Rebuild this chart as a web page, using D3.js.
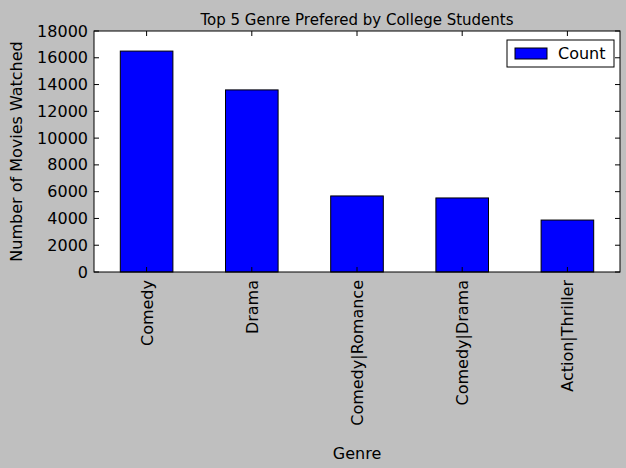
<!DOCTYPE html>
<html><head><meta charset="utf-8">
<script src="https://cdn.jsdelivr.net/npm/d3@7"></script>
<style>body{margin:0;background:#bfbfbf}text{font-family:"DejaVu Sans",sans-serif}</style>
</head><body><div id="chart"></div>
<script>
const genres = ["Comedy", "Drama", "Comedy|Romance", "Comedy|Drama", "Action|Thriller"];
const counts = [16500, 13600, 5680, 5530, 3880];
const yTicks = [0, 2000, 4000, 6000, 8000, 10000, 12000, 14000, 16000, 18000];

const W = 626, H = 468;
const m = {top: 31, right: 6, bottom: 196, left: 94};
const w = W - m.left - m.right, h = H - m.top - m.bottom;

const svg = d3.select("#chart").append("svg").attr("width", W).attr("height", H);
const g = svg.append("g").attr("transform", `translate(${m.left},${m.top})`);

const x = d3.scaleBand().domain(genres).range([0, w]).paddingInner(0.5).paddingOuter(0.25);
const y = d3.scaleLinear().domain([0, 18000]).range([h, 0]);

g.append("rect").attr("width", w).attr("height", h).attr("fill", "#fff");

g.selectAll(".bar").data(genres).enter().append("rect")
  .attr("x", d => x(d)).attr("width", x.bandwidth())
  .attr("y", (d, i) => y(counts[i])).attr("height", (d, i) => h - y(counts[i]))
  .attr("fill", "#0000ff").attr("stroke", "#000").attr("stroke-width", 1);

// ticks inside, both sides (classic style)
yTicks.forEach(t => {
  g.append("line").attr("x1", 0).attr("x2", 5).attr("y1", y(t)).attr("y2", y(t)).attr("stroke", "#000");
  g.append("line").attr("x1", w).attr("x2", w - 5).attr("y1", y(t)).attr("y2", y(t)).attr("stroke", "#000");
  g.append("text").attr("x", -6).attr("y", y(t)).attr("dy", "0.35em").attr("text-anchor", "end")
    .attr("font-size", 16).text(t);
});
genres.forEach(d => {
  const cx = x(d) + x.bandwidth() / 2;
  g.append("line").attr("x1", cx).attr("x2", cx).attr("y1", h).attr("y2", h - 5).attr("stroke", "#000");
  g.append("line").attr("x1", cx).attr("x2", cx).attr("y1", 0).attr("y2", 5).attr("stroke", "#000");
  g.append("text").attr("transform", `translate(${cx + 6},${h + 8}) rotate(-90)`)
    .attr("text-anchor", "end").attr("font-size", 16).text(d);
});

g.append("rect").attr("width", w).attr("height", h).attr("fill", "none").attr("stroke", "#000");

svg.append("text").attr("x", m.left + w / 2).attr("y", 25).attr("text-anchor", "middle")
  .attr("font-size", 15).text("Top 5 Genre Prefered by College Students");
svg.append("text").attr("x", m.left + w / 2).attr("y", 459).attr("text-anchor", "middle")
  .attr("font-size", 16).text("Genre");
svg.append("text").attr("transform", `translate(22,${m.top + h / 2}) rotate(-90)`)
  .attr("text-anchor", "middle").attr("font-size", 16).text("Number of Movies Watched");

const lg = svg.append("g").attr("transform", "translate(507,40)");
lg.append("rect").attr("width", 107).attr("height", 27).attr("fill", "#fff").attr("stroke", "#000");
lg.append("rect").attr("x", 8).attr("y", 8).attr("width", 32).attr("height", 11)
  .attr("fill", "#0000ff").attr("stroke", "#000");
lg.append("text").attr("x", 51).attr("y", 13.5).attr("dy", "0.35em").attr("font-size", 16).text("Count");
</script></body></html>
